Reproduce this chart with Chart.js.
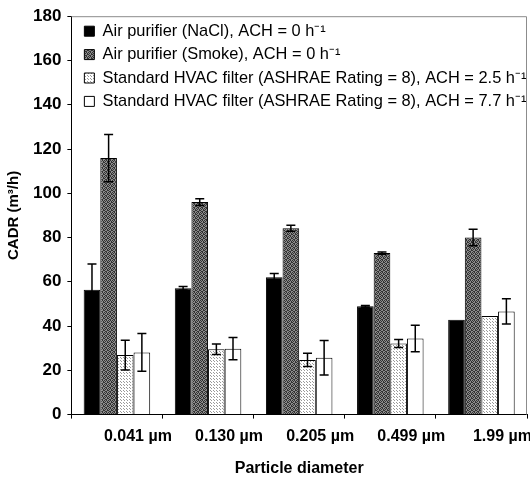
<!DOCTYPE html>
<html>
<head>
<meta charset="utf-8">
<script src="https://cdn.jsdelivr.net/npm/chart.js@4"></script>
<style>
  body { margin: 0; background: #fff; }
</style>
</head>
<body>
<canvas id="chart" width="530" height="478"></canvas>
<script>
const categories = ['0.041 \u00b5m', '0.130 \u00b5m', '0.205 \u00b5m', '0.499 \u00b5m', '1.99 \u00b5m'];
const seriesNames = [
    'Air purifier (NaCl), ACH = 0 h\u207b\u00b9',
    'Air purifier (Smoke), ACH = 0 h\u207b\u00b9',
    'Standard HVAC filter (ASHRAE Rating = 8), ACH = 2.5 h\u207b\u00b9',
    'Standard HVAC filter (ASHRAE Rating = 8), ACH = 7.7 h\u207b\u00b9'
];
const naclValues = [56.4, 57.1, 62.0, 48.9, 42.9];
const smokeValues = [115.9, 96.0, 84.2, 73.0, 80.0];
const hvac25Values = [26.9, 29.5, 24.7, 32.1, 44.6];
const hvac77Values = [28.1, 29.8, 25.7, 34.4, 46.6];
const naclErrors = [11.6, 0.8, 1.8, 0.4, 0];
const smokeErrors = [10.7, 1.5, 1.4, 0.5, 3.7];
const hvac25Errors = [6.7, 2.4, 3.0, 1.8, 0];
const hvac77Errors = [8.5, 5.0, 7.8, 6.0, 5.7];
const yTicks = [0, 20, 40, 60, 80, 100, 120, 140, 160, 180];

// small textures like the scanned greys
function makePattern(size, base, dots, dotColor) {
    const c = document.createElement('canvas');
    c.width = size; c.height = size;
    const g = c.getContext('2d');
    g.fillStyle = base;
    g.fillRect(0, 0, size, size);
    g.fillStyle = dotColor;
    dots.forEach(d => g.fillRect(d[0], d[1], 1, 1));
    return g.createPattern(c, 'repeat');
}
const ctx = document.getElementById('chart').getContext('2d');
const smokeFill = makePattern(4, '#8c8c8c', [[0, 0], [2, 0], [1, 1], [3, 1], [0, 2], [3, 2], [1, 3], [2, 3]], '#333');
const dottedFill = makePattern(3, '#ffffff', [[1, 1], [0, 0]], '#9a9a9a');

const errorBars = {
    id: 'errorBars',
    afterDatasetsDraw(chart) {
        const c = chart.ctx;
        const y = chart.scales.y;
        c.save();
        c.strokeStyle = '#000';
        c.lineWidth = 1.5;
        chart.data.datasets.forEach((ds, i) => {
            const meta = chart.getDatasetMeta(i);
            meta.data.forEach((bar, j) => {
                const err = ds.errors[j];
                if (!err) return;
                const top = y.getPixelForValue(ds.data[j] + err);
                const bot = y.getPixelForValue(ds.data[j] - err);
                c.beginPath();
                c.moveTo(bar.x, top); c.lineTo(bar.x, bot);
                c.moveTo(bar.x - 4.5, top); c.lineTo(bar.x + 4.5, top);
                c.moveTo(bar.x - 4.5, bot); c.lineTo(bar.x + 4.5, bot);
                c.stroke();
            });
        });
        c.restore();
    }
};

const plotBorder = {
    id: 'plotBorder',
    afterLayout(chart) {
        // nudge the in-plot legend a little to the right
        chart.legend.left += 6;
        chart.legend.right += 6;
    },
    beforeDatasetsDraw(chart) {
        const a = chart.chartArea;
        const c = chart.ctx;
        c.save();
        c.strokeStyle = '#8c8c8c';
        c.lineWidth = 1;
        c.beginPath();
        c.moveTo(a.left, a.top + 0.5);
        c.lineTo(a.right - 0.5, a.top + 0.5);
        c.lineTo(a.right - 0.5, a.bottom);
        c.stroke();
        c.restore();
    }
};

new Chart(ctx, {
    type: 'bar',
    data: {
        labels: categories,
        datasets: [
            { label: seriesNames[0], data: naclValues, errors: naclErrors, backgroundColor: '#000' },
            { label: seriesNames[1], data: smokeValues, errors: smokeErrors, backgroundColor: smokeFill },
            { label: seriesNames[2], data: hvac25Values, errors: hvac25Errors, backgroundColor: dottedFill },
            { label: seriesNames[3], data: hvac77Values, errors: hvac77Errors, backgroundColor: '#fff' }
        ].map(ds => Object.assign(ds, {
            borderColor: '#000',
            borderWidth: 1,
            categoryPercentage: 0.73,
            barPercentage: 1
        }))
    },
    options: {
        responsive: false,
        animation: false,
        layout: { padding: { left: 3, top: 8, right: 3, bottom: 0 } },
        font: { family: 'Liberation Sans' },
        scales: {
            x: {
                grid: { drawOnChartArea: false, tickLength: 4, color: '#000' },
                border: { color: '#000', width: 1 },
                ticks: {
                    color: '#000',
                    labelOffset: 21,
                    padding: 8,
                    font: { family: 'Liberation Sans', size: 16, weight: 'bold' }
                },
                title: {
                    display: true,
                    text: 'Particle diameter',
                    color: '#000',
                    padding: { top: 5, bottom: 0 },
                    font: { family: 'Liberation Sans', size: 16, weight: 'bold' }
                }
            },
            y: {
                min: 0,
                max: 180,
                afterBuildTicks: axis => { axis.ticks = yTicks.map(v => ({ value: v })); },
                grid: { drawOnChartArea: false, tickLength: 4, color: '#000' },
                border: { color: '#000', width: 1 },
                ticks: {
                    color: '#000',
                    padding: 6,
                    font: { family: 'Liberation Sans', size: 17, weight: 'bold' }
                },
                title: {
                    display: true,
                    text: 'CADR (m\u00b3/h)',
                    color: '#000',
                    padding: { top: 2, bottom: 4 },
                    font: { family: 'Liberation Sans', size: 15, weight: 'bold' }
                }
            }
        },
        plugins: {
            legend: {
                position: 'chartArea',
                align: 'start',
                title: { display: true, text: ' ', padding: 2, font: { size: 10 } },
                labels: {
                    color: '#000',
                    boxWidth: 10,
                    boxHeight: 10,
                    padding: 7,
                    font: { family: 'Liberation Sans', size: 16.4 }
                }
            },
            tooltip: { enabled: false }
        }
    },
    plugins: [plotBorder, errorBars]
});
</script>
</body>
</html>
